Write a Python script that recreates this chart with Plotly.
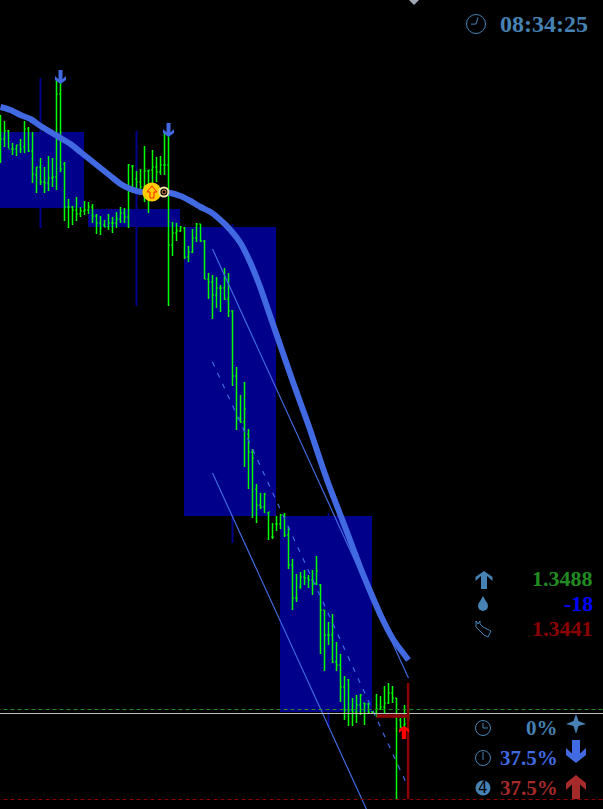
import math
import plotly.graph_objects as go

W, H = 603, 809

# OHLC in chart points (vertical scale of the chart)
highs = [694,688,679,666,664,670,688,682,677,642,
         651,642,653,651,731,731,647,610,603,612,
         602,608,607,605,595,593,589,595,592,597,
         602,601,645,644,638,640,663,639,659,652,
         653,676,676,587,586,583,582,563,580,586,
         585,569,536,534,532,524,541,536,499,442,
         414,427,380,360,325,316,316,297,286,293,
         295,296,282,250,235,237,239,234,239,253,
         225,199,187,195,167,155,133,130,111,114,
         115,106,106,98,115,113,123,126,123,111,
         91,104,101]
lows = [646,662,661,654,653,656,656,657,626,616,
        624,616,618,622,619,637,588,581,584,588,
        592,594,595,586,575,574,582,579,576,581,
        586,586,581,616,621,617,607,596,621,627,
        634,634,503,553,568,577,550,547,556,567,
        567,530,510,490,501,497,509,492,423,379,
        386,342,320,291,286,300,296,269,270,278,
        280,272,240,199,207,220,224,221,214,224,
        155,138,164,146,138,107,89,83,83,86,
        94,84,95,96,92,99,96,105,106,10,
        81,82,88]
opens = [680,670,678,660,660,664,662,680,658,634,
         642,627,626,631,632,715,645,602,602,599,
         595,598,599,602,593,586,584,582,586,586,
         590,596,592,643,630,627,622,638,639,642,
         637,644,644,564,576,578,581,552,557,571,
         585,568,530,527,514,521,521,510,498,433,
         391,387,375,357,320,304,302,296,272,285,
         285,294,274,244,211,222,232,231,229,225,
         224,199,174,174,147,144,122,129,99,97,
         104,106,105,97,97,100,102,106,116,111,
         89,84,88]
closes = [670,678,660,660,664,660,680,658,635,642,
          627,626,631,632,715,640,602,602,599,595,
          598,599,602,593,586,581,582,586,586,590,
          596,592,644,643,627,622,638,639,642,637,
          644,644,564,576,578,582,552,557,571,585,
          568,530,527,514,521,521,510,498,433,391,
          387,400,357,351,304,302,315,297,272,285,
          294,274,244,211,211,232,231,229,225,238,
          199,174,174,147,144,122,99,99,97,104,
          114,105,97,97,100,102,106,116,111,44,
          82,85,95]
bar_index = list(range(1, len(highs) + 1))

# Session boxes (higher-timeframe candles)
session_start = [-1, 23, 47, 71]
session_end = [22, 46, 70, 94]
session_top = [677, 600, 582, 293]
session_bottom = [601, 582, 293, 97]
session_mid = [11, 35, 59, 83]
session_high = [731, 678, 585, 296]
session_low = [581, 503, 266, 82]

# Moving average
ma_index = [1,3.5,6,8.5,11,13.5,16,18.5,21,23.5,26,28.5,31,33.5,36,38.5,41,43.5,46,48.5,51,53.5,
            56,58.5,61,63.5,66,68.5,71,73.5,76,78.25,81,83,85.5,88,91,93.5,96,99.25,103]
ma_value = [702,699,694,690,683,677,671,665,657,649,641,633,625,620,617,617,617,616,613,608,602,597,
            589,579,566,546,521,492,463,434,406,381,348,325,299,273,241,217,194,169,149]

# Channel
channel_index = [54, 103]
channel_upper = [560, 131]
channel_mid = [447, 21]
channel_lower = [336, -92]

# Levels
level_ask = 99.5
level_bid = 95.5
level_low = 9.5
red_v_index = 102.9
red_v_top, red_v_bottom = 126, 10
red_h_index = [95, 103]
red_h_value = 93

gold_index = [38.85]
gold_value = [617]
ring_index = [41.85]
ring_value = [617]

clock_text = "08:34:25"
info_texts = ["1.3488", "-18", "1.3441"]
info_colors = ["#228B22", "#0000FF", "#8B0000"]
pct_texts = ["0%", "37.5%", "37.5%"]
pct_colors = ["#4682B4", "#4169E1", "#A52A2A"]

STEEL = "#4682B4"
ROYAL = "#4169E1"
BROWN = "#A52A2A"
BOX = "#00008B"

fig = go.Figure()

x0 = 0.875
xr = [x0, x0 + W / 4]
yr = [0, H]

fig.add_trace(go.Bar(
    x=session_mid, y=[a - b for a, b in zip(session_high, session_low)], base=session_low,
    width=[0.5] * 4, marker=dict(color=BOX, line=dict(width=0))))
fig.add_trace(go.Bar(
    x=[(a + b) / 2 - 0.125 for a, b in zip(session_start, session_end)],
    y=[a - b for a, b in zip(session_top, session_bottom)], base=session_bottom,
    width=[b - a for a, b in zip(session_start, session_end)],
    marker=dict(color=BOX, line=dict(width=0))))

fig.add_trace(go.Ohlc(
    x=bar_index, open=opens, high=highs, low=lows, close=closes, tickwidth=0.3,
    increasing=dict(line=dict(color="#00FF00", width=1.5)),
    decreasing=dict(line=dict(color="#00FF00", width=1.5))))

for vals, dash in ((channel_upper, "solid"), (channel_mid, "5px,7px"), (channel_lower, "solid")):
    fig.add_trace(go.Scatter(x=channel_index, y=vals, mode="lines",
                             line=dict(color=ROYAL, width=1.2, dash=dash)))

fig.add_trace(go.Scatter(x=ma_index, y=ma_value, mode="lines",
                         line=dict(color=ROYAL, width=6, shape="spline", smoothing=0.5)))

fig.add_trace(go.Scatter(x=[0, 160], y=[level_ask] * 2, mode="lines",
                         line=dict(color="#228B22", width=1, dash="4px,3px")))
fig.add_trace(go.Scatter(x=[0, 160], y=[level_bid] * 2, mode="lines",
                         line=dict(color="#C0C0C0", width=1)))
fig.add_trace(go.Scatter(x=[0, 160], y=[level_low] * 2, mode="lines",
                         line=dict(color="#8B0000", width=1, dash="4px,3px")))
fig.add_trace(go.Scatter(x=[red_v_index] * 2, y=[red_v_top, red_v_bottom], mode="lines",
                         line=dict(color="#8B0000", width=2.5)))
fig.add_trace(go.Scatter(x=red_h_index, y=[red_h_value] * 2, mode="lines",
                         line=dict(color="#8B0000", width=3.5)))

fig.add_trace(go.Scatter(x=gold_index, y=gold_value, mode="markers",
                         marker=dict(color="#FFCC00", size=19, line=dict(width=0))))
fig.add_trace(go.Scatter(x=ring_index, y=ring_value, mode="markers",
                         marker=dict(color="#000000", size=9, line=dict(width=2, color="#F5E6A8"))))


def px(x, y):
    return x / W, 1 - y / H


def poly(pts, fill=None, line=None, lw=1, close=True):
    parts = []
    for i, (x, y) in enumerate(pts):
        a, b = px(x, y)
        parts.append(("M" if i == 0 else "L") + f"{a:.5f},{b:.5f}")
    path = " ".join(parts) + (" Z" if close else "")
    return dict(type="path", xref="paper", yref="paper", path=path,
                fillcolor=fill if fill else "rgba(0,0,0,0)",
                line=dict(color=line if line else "rgba(0,0,0,0)", width=lw if line else 0),
                layer="above")


def circle(cx, cy, r, fill=None, line=None, lw=1):
    a0, b0 = px(cx - r, cy + r)
    a1, b1 = px(cx + r, cy - r)
    return dict(type="circle", xref="paper", yref="paper", x0=a0, y0=b0, x1=a1, y1=b1,
                fillcolor=fill if fill else "rgba(0,0,0,0)",
                line=dict(color=line if line else "rgba(0,0,0,0)", width=lw if line else 0),
                layer="above")


def up_arrow(cx, top, bottom, half, stem, head, t, color):
    notch = top + head + t - (half - stem) * 0.9
    return poly([(cx, top), (cx + half, top + head), (cx + half, top + head + t), (cx + stem, notch),
                 (cx + stem, bottom), (cx - stem, bottom), (cx - stem, notch),
                 (cx - half, top + head + t), (cx - half, top + head)], fill=color)


def down_arrow(cx, top, bottom, half, stem, head, t, color):
    notch = bottom - head - t + (half - stem) * 0.9
    return poly([(cx, bottom), (cx + half, bottom - head), (cx + half, bottom - head - t), (cx + stem, notch),
                 (cx + stem, top), (cx - stem, top), (cx - stem, notch),
                 (cx - half, bottom - head - t), (cx - half, bottom - head)], fill=color)


def clock(cx, cy, r, hands):
    out = [circle(cx, cy, r, line=STEEL, lw=1)]
    for ang, ln in hands:
        out.append(poly([(cx, cy), (cx + ln * math.sin(ang), cy - ln * math.cos(ang))],
                        line=STEEL, lw=1, close=False))
    return out


shapes = []
for cx, top in ((60, 70), (168, 123)):
    shapes.append(down_arrow(cx + 0.5, top, top + 14, 5.5, 2, 4, 4, ROYAL))
shapes.append(up_arrow(404, 726, 739, 5, 2.2, 3, 4, "#FF0000"))
shapes.append(poly([(152, 186), (157, 192), (154, 192), (154, 198), (150, 198), (150, 192), (147, 192)],
                   line="#FF2000", lw=1))
shapes.append(circle(164, 192, 2, line="#E08040", lw=1))
shapes.append(poly([(409, 0), (419, 0), (414, 5)], fill="#A0A8B8"))
shapes += clock(476, 24, 9.5, [(0.3, 7), (-1.6, 5)])
shapes.append(up_arrow(484, 571, 589, 8.5, 3, 6, 4, STEEL))
shapes.append(circle(483, 606, 5, fill=STEEL))
shapes.append(poly([(483, 596), (487.5, 604), (478.5, 604)], fill=STEEL))
shapes.append(poly([(476, 621), (476, 627), (484, 635), (488, 637), (491, 631), (483, 627), (480, 624), (480, 621), (478, 624)],
                   line=STEEL, lw=1))
shapes += clock(483, 728, 7.5, [(0, 5), (1.57, 5)])
shapes += clock(483, 758, 7.5, [(0, 6), (3.14, 2)])
shapes.append(circle(483, 788, 7.5, fill=STEEL))
shapes.append(poly([(576, 714), (578.5, 721), (586, 724), (578.5, 726), (576, 734), (573.5, 726), (566, 724), (573.5, 721)], fill=STEEL))
shapes.append(down_arrow(576, 740, 763, 10, 4, 8, 7, ROYAL))
shapes.append(up_arrow(576, 775, 799, 10, 4, 8, 7, BROWN))

ann = []
FONT = "Liberation Serif"


def text(x, y, s, color, size, anchor="right", family=FONT, bold=True):
    a, b = px(x, y)
    ann.append(dict(x=a, y=b, xref="paper", yref="paper", text=f"<b>{s}</b>" if bold else s,
                    showarrow=False, xanchor=anchor, yanchor="middle",
                    font=dict(family=family, size=size, color=color), borderpad=0, borderwidth=0))


text(588, 24, clock_text, STEEL, 24)
for y, s, c in zip((578, 603, 628), info_texts, info_colors):
    text(593, y, s, c, 22)
for y, s, c in zip((728, 758, 788), pct_texts, pct_colors):
    text(558, y, s, c, 21)
text(483, 788, "4", "#000000", 15, anchor="center", family="DejaVu Sans", bold=False)

fig.update_layout(
    width=W, height=H, margin=dict(l=0, r=0, t=0, b=0),
    paper_bgcolor="#000000", plot_bgcolor="#000000",
    showlegend=False, barmode="overlay", shapes=shapes, annotations=ann,
    xaxis=dict(range=xr, visible=False, fixedrange=True, rangeslider=dict(visible=False)),
    yaxis=dict(range=yr, visible=False, fixedrange=True),
)

fig.write_html("out.html", config=dict(displayModeBar=False),
               post_script="document.body.style.margin='0';document.body.style.background='#000';document.documentElement.style.overflow='hidden';")
